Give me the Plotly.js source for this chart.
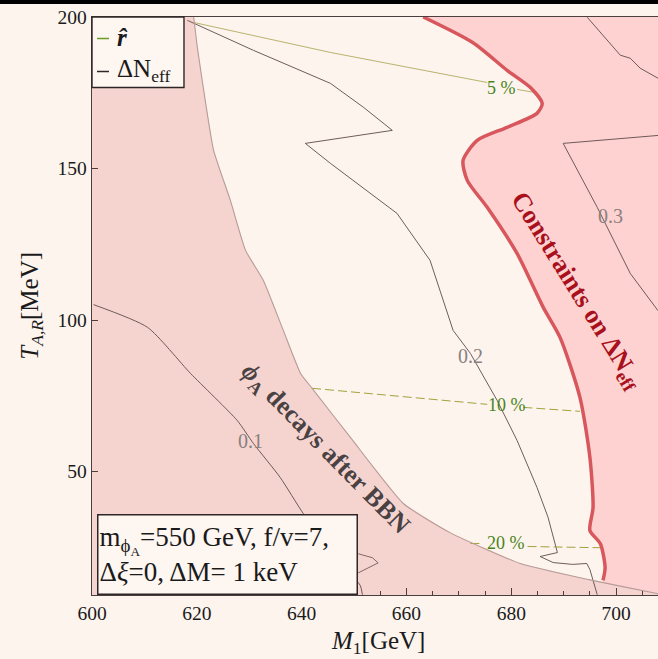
<!DOCTYPE html>
<html>
<head>
<meta charset="utf-8">
<script src="https://cdn.plot.ly/plotly-3.0.1.min.js"></script>
<style>
html,body{margin:0;padding:0;overflow:hidden;background:#fdf4ee;width:658px;height:659px;}
#chart{width:680px;height:659px;}
</style>
</head>
<body>
<div id="chart"></div>
<script>
// ---- data (M1 in GeV, T_{A,R} in MeV) ----
const xRange = [600, 712];
const yRange = [9.3, 200];

// BBN boundary (phi_A decays after BBN), top to bottom
const bbnM1 = [619.4, 620.1, 621.6, 623.2, 626.4, 629.3, 632.7, 636.5, 639.8, 642.0, 649.3, 659.4, 668.4, 681.7, 695.0, 707.8, 712];
const bbnT  = [200, 190.0, 172.5, 156.0, 139.5, 123.0, 113.1, 96.6, 82.4, 77.5, 61.3, 39.5, 29.8, 19.7, 14.3, 9.8, 8.6];
const bbnCloseM1 = [600, 600];
const bbnCloseT  = [9.3, 200];

// Delta N_eff constraint boundary, top to bottom
const cnM1 = [663.2, 672.7, 679.2, 683.6, 685.9, 684.9, 679.2, 673.5, 670.8, 671.6, 675.4, 681.1, 686.1, 689.3, 693.1, 695.0, 695.6, 695.0, 697.0, 697.9, 697.5];
const cnT  = [200, 191.5, 182.4, 176.8, 171.5, 168.2, 163.6, 159.3, 152.7, 146.1, 137.2, 122.0, 104.2, 94.3, 74.5, 54.7, 38.2, 30.6, 26.2, 18.3, 14.1];
const cnCloseM1 = [697.8, 712, 712];
const cnCloseT  = [9.3, 9.3, 200];

// Delta N_eff contours
const dn01M1 = [600.3, 610.6, 618.8, 627.7, 630.8, 635.9, 640.3, 645.5, 649.7, 651.2, 651.6];
const dn01T  = [105.1, 97.6, 82.4, 66.9, 59.3, 48.1, 36.2, 24.0, 15.7, 12.4, 9.4];
const dnBumpM1 = [650.8, 653.5, 654.6, 653.5, 650.8];
const dnBumpT  = [22.9, 21.6, 19.9, 18.9, 16.6];
const dn02M1 = [618.2, 630.8, 645.5, 651.8, 657.3, 640.7, 645.5, 658.2, 664.5, 668.9, 672.2, 677.3, 681.1, 684.9, 687.0, 688.8, 685.5, 688.0, 691.7, 694.4, 695.0, 695.6, 696.4];
const dn02T  = [198.9, 189.0, 178.1, 170.2, 162.6, 158.3, 151.7, 135.2, 119.7, 96.6, 89.0, 73.5, 60.3, 44.8, 35.0, 23.3, 22.0, 20.0, 19.4, 19.7, 17.7, 14.4, 9.4];
const dn03aM1 = [694.5, 698.3, 700.8, 702.7, 704.6, 708.0, 712];
const dn03aT  = [199.9, 192.3, 187.4, 186.4, 183.1, 179.8, 177.8];
const dn03bM1 = [712, 708.0, 689.9, 696.4, 702.7, 708.0, 712];
const dn03bT  = [161.5, 160.9, 158.3, 137.2, 115.4, 103.1, 97.5];

// r-hat contours (segments split around their labels)
const r05M1 = [619.4, 645.5, 675.4, null, 681.1, 684.5];
const r05T  = [198.2, 188.3, 178.4, null, 176.1, 175.1];
const r10M1 = [642.0, 675.4, null, 682.3, 693.1];
const r10T  = [77.5, 72.2, null, 71.2, 69.9];
const r20M1 = [672.2, 674.6, null, 683.1, 697.0];
const r20T  = [26.3, 26.3, null, 25.3, 24.9];

// contour labels
const dnLabels = ['0.1', '0.2', '0.3'];
const dnLabM1 = [630.2, 672.2, 698.9];
const dnLabT  = [60.0, 88.3, 134.5];
const rLabels = ['5 %', '10 %', '20 %'];
const rLabM1 = [678.1, 679.2, 679.0];
const rLabT  = [176.5, 71.9, 26.4];

const xTicks = [600, 620, 640, 660, 680, 700];
const yTicks = [50, 100, 150, 200];

// ---- styles ----
const serif = 'Liberation Serif, Times New Roman, serif';
const cream = '#fdf4ee';
const lineCol = '#5e4c4a';

function line(x, y, color, width, dash, smooth) {
  const l = {color: color, width: width, dash: dash || 'solid'};
  if (smooth) { l.shape = 'spline'; l.smoothing = smooth; }
  return {x: x, y: y, type: 'scatter', mode: 'lines', hoverinfo: 'skip', showlegend: false, line: l};
}

const traces = [
  {x: cnM1.concat(cnCloseM1), y: cnT.concat(cnCloseT), type: 'scatter', mode: 'lines', fill: 'toself',
   fillcolor: '#ffd2d2', line: {width: 0, shape: 'spline', smoothing: 0.7}, hoverinfo: 'skip', showlegend: false},
  {x: bbnM1.concat(bbnCloseM1), y: bbnT.concat(bbnCloseT), type: 'scatter', mode: 'lines', fill: 'toself',
   fillcolor: '#f5d4d0', line: {width: 0}, hoverinfo: 'skip', showlegend: false},
  line(dn01M1, dn01T, lineCol, 0.9, null, 0.6),
  line(dnBumpM1, dnBumpT, lineCol, 0.8),
  line(dn02M1, dn02T, lineCol, 0.9),
  line(dn03aM1, dn03aT, lineCol, 0.9),
  line(dn03bM1, dn03bT, lineCol, 0.9),
  line(r05M1, r05T, '#b9b36c', 1.0),
  line(r10M1, r10T, '#a3a23a', 1.0, '9px,4px'),
  line(r20M1, r20T, '#a3a23a', 1.0, '9px,4px'),
  line(bbnM1, bbnT, '#b79b98', 1.1, null, 0.5),
  line(cnM1, cnT, '#d7575d', 3.5, null, 0.7)
];

const annotations = [];
for (let i = 0; i < dnLabels.length; i++) {
  annotations.push({x: dnLabM1[i], y: dnLabT[i], xref: 'x', yref: 'y', text: dnLabels[i], showarrow: false,
    font: {family: serif, size: 20, color: '#8a807e'}});
}
for (let i = 0; i < rLabels.length; i++) {
  annotations.push({x: rLabM1[i], y: rLabT[i], xref: 'x', yref: 'y', text: rLabels[i], showarrow: false,
    font: {family: serif, size: 18, color: '#4a8418'}});
}
annotations.push(
  {x: 692.4, y: 109.5, xref: 'x', yref: 'y', text: '<b>Constraints on ΔN<sub>eff</sub></b>', showarrow: false,
   textangle: 58, font: {family: serif, size: 26, color: '#a8101c'}},
  {x: 644.4, y: 57.5, xref: 'x', yref: 'y', text: '<b><i>ϕ</i><sub>A</sub> decays after BBN</b>', showarrow: false,
   textangle: 45.5, font: {family: serif, size: 26, color: '#4a4242'}},
  // parameter box
  {x: 0.0085, y: 0.0, xref: 'paper', yref: 'paper', xanchor: 'left', yanchor: 'bottom',
   text: 'm<sub>ϕ<sub>A</sub></sub>=550 GeV, f/v=7,<br>Δ<i>ξ</i>=0, ΔM= 1 keV', showarrow: false, align: 'left',
   width: 256, height: 76, bgcolor: '#fdf6f1', bordercolor: '#2e2626', borderwidth: 1.5, borderpad: 1,
   font: {family: serif, size: 27, color: '#1a1a1a'}},
  // legend texts
  {x: 0.039, y: 0.9645, xref: 'paper', yref: 'paper', xanchor: 'left', yanchor: 'middle',
   text: '<b><i>r̂</i></b>', showarrow: false, font: {family: serif, size: 25, color: '#1a1a1a'}},
  {x: 0.039, y: 0.9075, xref: 'paper', yref: 'paper', xanchor: 'left', yanchor: 'middle',
   text: 'ΔN<sub>eff</sub>', showarrow: false, font: {family: serif, size: 25, color: '#1a1a1a'}},
  // axis titles
  {x: 0.487, y: -0.083, xref: 'paper', yref: 'paper', xanchor: 'center', yanchor: 'middle',
   text: '<i>M</i><sub>1</sub>[GeV]', showarrow: false, font: {family: serif, size: 25, color: '#1a1a1a'}},
  {x: -0.1045, y: 0.50, xref: 'paper', yref: 'paper', xanchor: 'center', yanchor: 'middle',
   text: '<i>T</i><sub><i>A,R</i></sub>[MeV]', showarrow: false,
   textangle: -90, font: {family: serif, size: 25, color: '#1a1a1a'}}
);

const shapes = [
  // top black band of the frame grab
  {type: 'rect', xref: 'paper', yref: 'paper', x0: -0.2, x1: 1.1, y0: 1.0225, y1: 1.06,
   fillcolor: '#000', line: {width: 0}},
  // legend box
  {type: 'rect', xref: 'paper', yref: 'paper', x0: 0, x1: 0.1567, y0: 0.878, y1: 1,
   fillcolor: '#fdf6f1', line: {color: '#2e2626', width: 1.4}},
  {type: 'line', xref: 'paper', yref: 'paper', x0: 0.0085, x1: 0.029, y0: 0.9628, y1: 0.9628,
   line: {color: '#6a9e22', width: 1.5}},
  {type: 'line', xref: 'paper', yref: 'paper', x0: 0.0085, x1: 0.029, y0: 0.9057, y1: 0.9057,
   line: {color: '#2e2626', width: 1.5}}
];

const axisCommon = {
  showgrid: false, zeroline: false, showline: true, mirror: true,
  linecolor: '#4a3e3e', linewidth: 1.3, ticks: 'inside', tickcolor: '#4a3e3e',
  tickfont: {family: serif, size: 19.5, color: '#1a1a1a'}
};

const layout = {
  width: 680, height: 659,
  margin: {l: 92, r: 1, t: 17, b: 64},
  paper_bgcolor: cream, plot_bgcolor: cream,
  showlegend: false,
  xaxis: Object.assign({}, axisCommon, {range: xRange, tickvals: xTicks, ticklen: 7,
    minor: {dtick: 5, ticks: 'inside', ticklen: 4, tickcolor: '#4a3e3e'}}),
  yaxis: Object.assign({}, axisCommon, {range: yRange, tickvals: yTicks, ticklen: 6}),
  annotations: annotations,
  shapes: shapes
};

Plotly.newPlot('chart', traces, layout, {displayModeBar: false, staticPlot: true});
</script>
</body>
</html>
